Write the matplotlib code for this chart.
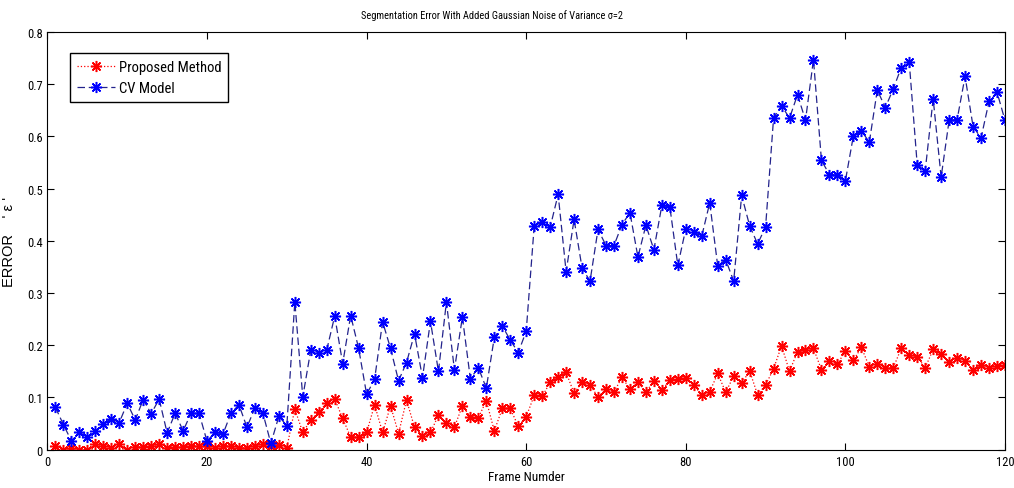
import matplotlib
matplotlib.use("Agg")
import matplotlib.pyplot as plt
import numpy as np

plt.rcParams['font.family'] = ['Roboto Condensed', 'Liberation Sans', 'DejaVu Sans']

# frame numbers 1..120
frames = np.arange(1, 121)

proposed = [
    0.008, 0.000, 0.003, 0.000, 0.000, 0.010, 0.008, 0.004, 0.011, 0.000,
    0.006, 0.006, 0.008, 0.010, 0.004, 0.006, 0.006, 0.008, 0.008, 0.008,
    0.003, 0.008, 0.008, 0.004, 0.004, 0.008, 0.011, 0.008, 0.009, 0.004,
    0.078, 0.033, 0.057, 0.073, 0.090, 0.097, 0.060, 0.024, 0.024, 0.033,
    0.086, 0.033, 0.084, 0.031, 0.095, 0.043, 0.027, 0.033, 0.066, 0.052,
    0.043, 0.084, 0.063, 0.061, 0.094, 0.036, 0.079, 0.079, 0.045, 0.063,
    0.104, 0.102, 0.129, 0.139, 0.148, 0.108, 0.130, 0.124, 0.101, 0.116,
    0.110, 0.139, 0.116, 0.129, 0.110, 0.132, 0.114, 0.133, 0.135, 0.138,
    0.124, 0.104, 0.111, 0.146, 0.110, 0.141, 0.127, 0.151, 0.105, 0.124,
    0.155, 0.199, 0.150, 0.188, 0.191, 0.194, 0.153, 0.170, 0.164, 0.189,
    0.171, 0.196, 0.159, 0.164, 0.157, 0.157, 0.194, 0.181, 0.178, 0.157,
    0.192, 0.183, 0.168, 0.176, 0.170, 0.153, 0.162, 0.156, 0.161, 0.162,
]

cv_model = [
    0.081, 0.048, 0.017, 0.033, 0.024, 0.035, 0.049, 0.059, 0.052, 0.089,
    0.057, 0.096, 0.069, 0.097, 0.032, 0.070, 0.036, 0.070, 0.070, 0.016,
    0.034, 0.030, 0.070, 0.086, 0.043, 0.080, 0.070, 0.012, 0.064, 0.046,
    0.283, 0.101, 0.191, 0.186, 0.191, 0.256, 0.165, 0.257, 0.194, 0.106,
    0.135, 0.245, 0.194, 0.132, 0.167, 0.222, 0.138, 0.246, 0.150, 0.283,
    0.153, 0.254, 0.136, 0.157, 0.118, 0.215, 0.237, 0.210, 0.186, 0.227,
    0.428, 0.436, 0.426, 0.489, 0.341, 0.441, 0.348, 0.323, 0.422, 0.391,
    0.391, 0.431, 0.454, 0.369, 0.430, 0.383, 0.468, 0.465, 0.353, 0.423,
    0.417, 0.409, 0.473, 0.352, 0.364, 0.323, 0.487, 0.429, 0.394, 0.427,
    0.635, 0.659, 0.635, 0.680, 0.631, 0.747, 0.554, 0.527, 0.527, 0.515,
    0.601, 0.611, 0.589, 0.689, 0.655, 0.691, 0.732, 0.743, 0.546, 0.534,
    0.672, 0.522, 0.631, 0.632, 0.715, 0.619, 0.597, 0.667, 0.685, 0.631,
]

asterisk = (8, 2, 0)

fig = plt.figure(figsize=(10.14, 4.89), dpi=100)
ax = fig.add_axes([0.0468, 0.0783, 0.9443, 0.8542])

ax.plot(frames, proposed, color='red', linestyle=':', linewidth=0.9,
        marker=asterisk, markersize=8, markeredgewidth=1.1, label='Proposed Method')
ax.plot(frames, cv_model, color='#23238c', linestyle='--', linewidth=0.9,
        dashes=(6, 3), marker=asterisk, markersize=8, markeredgewidth=1.1,
        markeredgecolor='blue', label='CV Model')

ax.set_xlim(0, 120)
ax.set_ylim(0, 0.8)
ax.set_xticks(range(0, 121, 20))
ax.set_yticks(np.arange(0, 0.81, 0.1))
ax.set_yticklabels(['0', '0.1', '0.2', '0.3', '0.4', '0.5', '0.6', '0.7', '0.8'])
ax.tick_params(direction='in', top=True, right=True, labelsize=9, length=5)

ax.set_title('Segmentation Error With Added Gaussian Noise of Variance σ=2',
             fontsize=7.5, x=0.464, pad=10)
ax.set_xlabel('Frame Numder', fontsize=9.5, labelpad=2)
ax.set_ylabel("ERROR    ' ε '", fontsize=10.5, labelpad=8,
              family=['Liberation Sans', 'DejaVu Sans'])

ax.legend(loc='upper left', bbox_to_anchor=(0.024, 0.949), borderaxespad=0,
          fancybox=False, edgecolor='black', fontsize=10.5, handlelength=2.6,
          handletextpad=0.3, borderpad=0.45, framealpha=1)

fig.savefig('out.png', dpi=100)
